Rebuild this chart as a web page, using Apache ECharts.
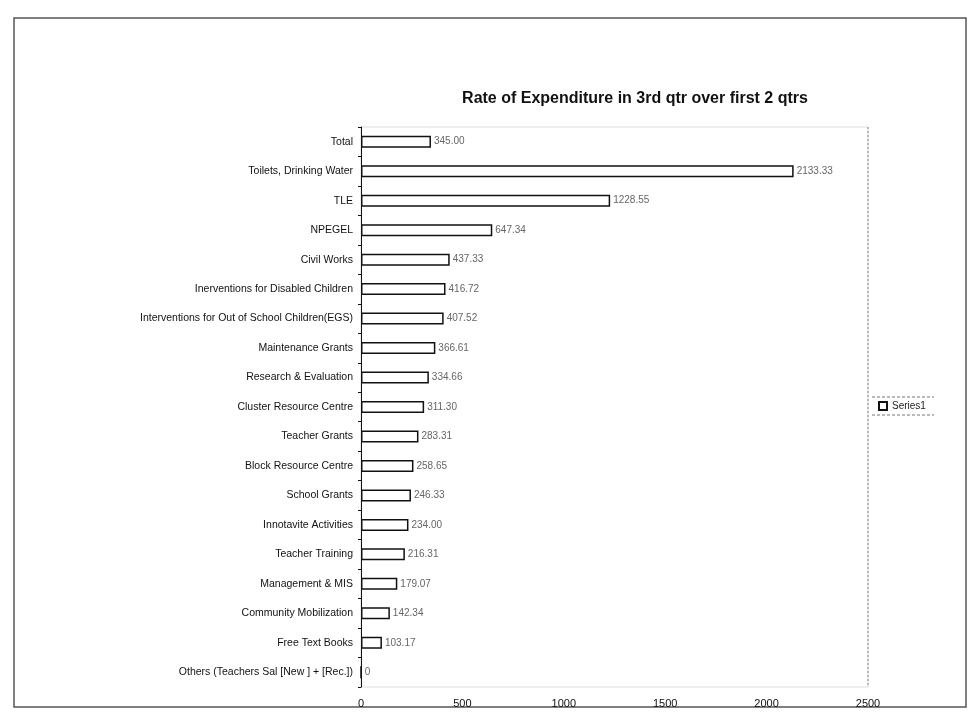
<!DOCTYPE html>
<html>
<head>
<meta charset="utf-8">
<script src="https://cdn.jsdelivr.net/npm/echarts@6/dist/echarts.min.js"></script>
<style>
  html, body { margin: 0; padding: 0; background: #fff; }
  #chart { width: 972px; height: 720px; }
</style>
</head>
<body>
<div id="chart"></div>
<script>
// Components of expenditure, listed top to bottom
const categories = [
  'Total',
  'Toilets, Drinking Water',
  'TLE',
  'NPEGEL',
  'Civil Works',
  'Inerventions for Disabled Children',
  'Interventions for Out of School Children(EGS)',
  'Maintenance Grants',
  'Research & Evaluation',
  'Cluster Resource Centre',
  'Teacher Grants',
  'Block Resource Centre',
  'School Grants',
  'Innotavite Activities',
  'Teacher Training',
  'Management & MIS',
  'Community Mobilization',
  'Free Text Books',
  'Others (Teachers Sal [New ] + [Rec.])'
];

// Rate of expenditure in 3rd quarter over first two quarters
const series1 = [
  345.00, 2133.33, 1228.55, 647.34, 437.33, 416.72, 407.52, 366.61, 334.66,
  311.30, 283.31, 258.65, 246.33, 234.00, 216.31, 179.07, 142.34, 103.17, 0
];

const xTicks = { min: 0, max: 2500, interval: 500 };

const chart = echarts.init(document.getElementById('chart'), null, { renderer: 'canvas' });

chart.setOption({
  backgroundColor: '#fff',
  animation: false,
  title: {
    text: 'Rate of Expenditure in 3rd qtr over first 2 qtrs',
    left: 630,
    top: 86,
    textAlign: 'center',
    textStyle: { fontFamily: 'Liberation Sans', fontSize: 16, fontWeight: 'bold', color: '#111' }
  },
  graphic: [
    {
      type: 'rect',
      shape: { x: 14, y: 18, width: 952, height: 689 },
      style: { fill: 'none', stroke: '#555', lineWidth: 1.5 },
      silent: true
    },
    {
      // dashed rules above and below the legend entry
      type: 'group',
      silent: true,
      children: [
        { type: 'line', shape: { x1: 872, y1: 397, x2: 934, y2: 397 }, style: { stroke: '#777', lineWidth: 1, lineDash: [3, 2] } },
        { type: 'line', shape: { x1: 872, y1: 415, x2: 934, y2: 415 }, style: { stroke: '#777', lineWidth: 1, lineDash: [3, 2] } }
      ]
    },
    {
      // dotted right edge of the plot area
      type: 'line',
      silent: true,
      shape: { x1: 868, y1: 127, x2: 868, y2: 687 },
      style: { stroke: '#888', lineWidth: 1, lineDash: [2, 2] }
    }
  ],
  legend: {
    data: ['Series1'],
    left: 872,
    top: 397,
    orient: 'vertical',
    itemWidth: 8,
    itemHeight: 8,
    itemGap: 4,
    padding: [4, 6],
    icon: 'rect',
    textStyle: { fontFamily: 'Liberation Sans', fontSize: 10, color: '#222' }
  },
  grid: {
    left: 361,
    top: 127,
    width: 507,
    height: 560,
    show: true,
    borderColor: '#ddd',
    borderWidth: 1,
    backgroundColor: 'transparent'
  },
  xAxis: {
    type: 'value',
    min: xTicks.min,
    max: xTicks.max,
    interval: xTicks.interval,
    axisLine: { show: false },
    axisTick: { show: false },
    splitLine: { show: false },
    axisLabel: {
      margin: 11,
      fontFamily: 'Liberation Sans',
      fontSize: 11,
      color: '#111',
      formatter: v => String(v)
    }
  },
  yAxis: {
    type: 'category',
    data: categories,
    inverse: true,
    axisLine: { show: true, lineStyle: { color: '#111', width: 1 } },
    axisTick: { show: true, length: 3, lineStyle: { color: '#111' } },
    axisLabel: {
      margin: 8,
      fontFamily: 'Liberation Sans',
      fontSize: 10.5,
      color: '#111'
    }
  },
  series: [
    {
      name: 'Series1',
      type: 'bar',
      data: series1,
      barWidth: 12,
      itemStyle: { color: '#fff', borderColor: '#111', borderWidth: 1.5 },
      label: {
        show: true,
        position: 'right',
        distance: 3,
        fontFamily: 'Liberation Sans',
        fontSize: 10,
        color: '#666',
        formatter: p => (p.value === 0 ? '0' : p.value.toFixed(2))
      }
    }
  ]
});
</script>
</body>
</html>
